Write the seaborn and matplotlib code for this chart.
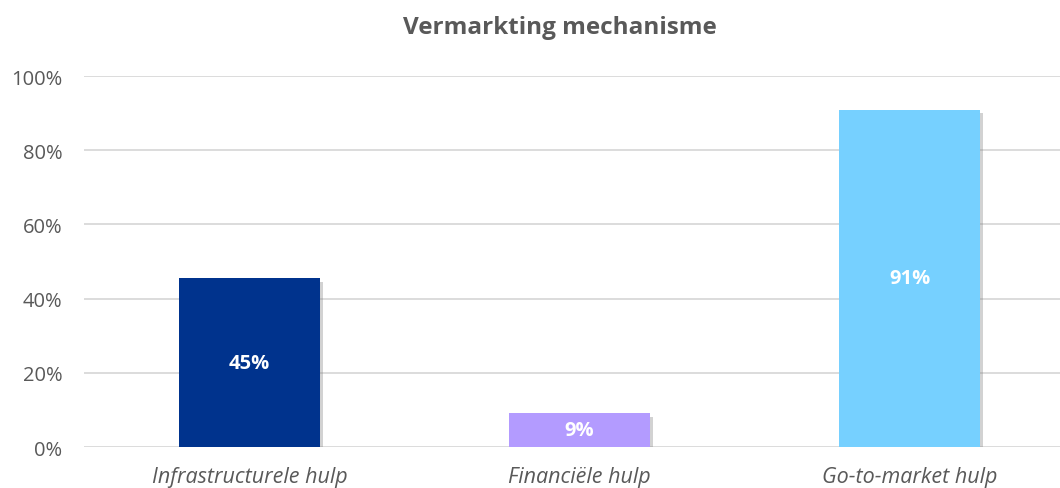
import matplotlib.pyplot as plt
import matplotlib.patheffects as pe
from matplotlib.ticker import PercentFormatter
import pandas as pd
import seaborn as sns

categories = ['Infrastructurele hulp', 'Financiële hulp', 'Go-to-market hulp']
values = [10 / 22, 2 / 22, 20 / 22]
labels = ['45%', '9%', '91%']
colors = ['#00338D', '#B39BFF', '#76D0FF']

df = pd.DataFrame({'cat': categories, 'val': values})

sns.set_theme(style='white')
plt.rcParams['font.family'] = ['Open Sans', 'DejaVu Sans']

fig = plt.figure(figsize=(10.6, 4.89), dpi=100)
ax = fig.add_axes([0.0797, 0.0838, 0.9203, 0.7587])

sns.barplot(data=df, x='cat', y='val', hue='cat', palette=colors, width=0.427,
            saturation=1, linewidth=0, edgecolor='none', legend=False, ax=ax, zorder=3)

# soft drop shadow like the office chart
for p in ax.patches:
    p.set_path_effects([pe.SimplePatchShadow(offset=(2.5, -2.5), shadow_rgbFace='#808080', alpha=0.35),
                        pe.Normal()])

for c, lab in zip(ax.containers, labels):
    ax.bar_label(c, labels=[lab], label_type='center', color='white', fontsize=14.5, fontweight='bold')

ax.set_ylim(0, 1)
ax.set_xlim(-0.5, 2.456)
ax.set_yticks([0, 0.2, 0.4, 0.6, 0.8, 1.0])
ax.yaxis.set_major_formatter(PercentFormatter(1.0, decimals=0))
ax.grid(axis='y', color='#D9D9D9', linewidth=1.3, zorder=0)
ax.set_axisbelow(True)
for s in ax.spines.values():
    s.set_visible(False)
ax.tick_params(axis='y', length=0, pad=16, labelsize=14.5, labelcolor='#595959')
ax.tick_params(axis='x', length=0, pad=13.5, labelsize=15.5, labelcolor='#595959')
for t in ax.get_xticklabels():
    t.set_fontstyle('italic')
ax.set_xlabel('')
ax.set_ylabel('')
fig.text(0.528, 0.943, 'Vermarkting mechanisme', ha='center', va='center',
         fontsize=17.5, fontweight='bold', color='#595959')

fig.savefig('out.png', dpi=100)
